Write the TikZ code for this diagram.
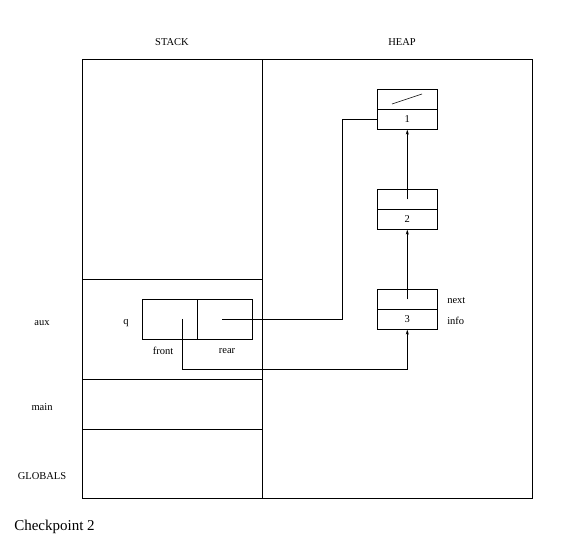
\documentclass[tikz,border=0pt]{standalone}
\usepackage{fontspec}
\setmainfont{Liberation Serif}
\usetikzlibrary{arrows.meta}
\begin{document}
\begin{tikzpicture}[x=1pt,y=-1pt,line width=0.6pt,
  lbl/.style={font=\fontsize{10.5}{12}\selectfont,inner sep=0pt},
  half/.style={draw,minimum width=60pt,minimum height=20pt,inner sep=0pt,anchor=north west,font=\fontsize{10.5}{12}\selectfont},
  cell/.style={draw,minimum width=55pt,minimum height=40pt,inner sep=0pt,anchor=north west},
  ptr/.style={-{Stealth[length=5pt,width=3pt]}}]
\useasboundingbox (0,0) rectangle (571,553);
% outer frame
\node[draw,minimum width=180pt,minimum height=439pt,inner sep=0pt,anchor=north west] (stack) at (82,59) {};
\node[draw,minimum width=270pt,minimum height=439pt,inner sep=0pt,anchor=north west] (heap) at (262,59) {};
\coordinate (s1l) at (82,279); \coordinate (s1r) at (262,279);
\coordinate (s2l) at (82,379); \coordinate (s2r) at (262,379);
\coordinate (s3l) at (82,429); \coordinate (s3r) at (262,429);
\draw (s1l) -- (s1r);
\draw (s2l) -- (s2r);
\draw (s3l) -- (s3r);
% labels
\node[lbl] (lstack) at (172,42) {STACK};
\node[lbl] (lheap) at (402,42) {HEAP};
\node[lbl] (laux) at (42,323) {aux};
\node[lbl] (lmain) at (42,407) {main};
\node[lbl] (lglob) at (42,476) {GLOBALS};
\node[font=\fontsize{15}{17}\selectfont,inner sep=0pt,anchor=west] (chk) at (14,527) {Checkpoint 2};
% q record
\node[lbl] (lq) at (126,323) {q};
\node[cell] (front) at (142,299) {};
\node[cell] (rear) at (197,299) {};
\node[lbl] (lfront) at (163,351) {front};
\node[lbl] (lrear) at (227,351) {rear};
% heap nodes
\node[half] (n1t) at (377,89) {};
\node[half] (n1b) at (377,109) {1};
\node[half] (n2t) at (377,189) {};
\node[half] (n2b) at (377,209) {2};
\node[half] (n3t) at (377,289) {};
\node[half] (n3b) at (377,309) {3};
\node[lbl,anchor=west] (lnext) at (447,301) {next};
\node[lbl,anchor=west] (linfo) at (447,321) {info};
% null slash
\coordinate (sl1) at (392,104); \coordinate (sl2) at (422,94);
\draw (sl1) -- (sl2);
% pointers
\coordinate (rs) at (222,319);
\coordinate (fs) at (182,319);
\draw (rs) -- (342,319) |- (n1b.west);
\draw[ptr] (fs) -- (182,369) -| (n3b.south);
\draw[ptr] (n3t.center) -- (n2b.south);
\draw[ptr] (n2t.center) -- (n1b.south);
\end{tikzpicture}
\end{document}
